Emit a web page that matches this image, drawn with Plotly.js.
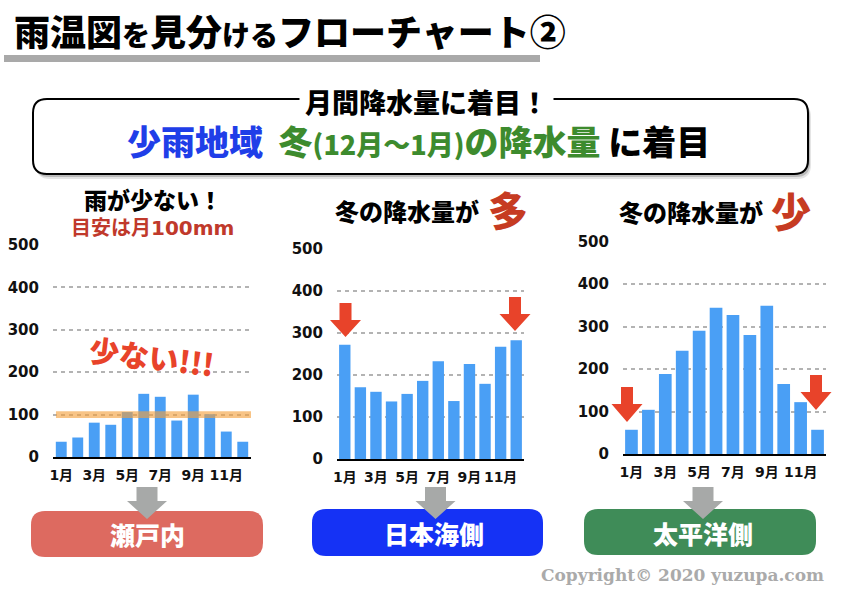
<!DOCTYPE html>
<html>
<head>
<meta charset="utf-8">
<script src="https://cdn.plot.ly/plotly-3.0.1.min.js"></script>
<style>html,body{margin:0;padding:0;background:#fff;}#chart{width:842px;height:595px;}</style>
</head>
<body>
<div id="chart"></div>
<script>
// ---- data ----
const months = ['1月','2月','3月','4月','5月','6月','7月','8月','9月','10月','11月','12月'];
const tickMonths = ['1月','3月','5月','7月','9月','11月'];
const yTicks = [0,100,200,300,400,500];
const setouchi = [36,46,81,76,106,149,142,86,147,101,60,36];
const nihonkai = [272,171,160,137,155,186,233,138,226,179,267,283];
const taiheiyo = [57,104,188,243,290,344,327,280,349,165,122,57];
const regionNames = ['瀬戸内','日本海側','太平洋側'];
const guideline = 100;

// ---- helpers ----
const W = 842, H = 595;
const X = p => p / W;
const Y = p => 1 - p / H;
const CJK = 'Noto Sans CJK JP';
const NUM = 'DejaVu Sans, Noto Sans CJK JP';

function roundRect(x0, y0, x1, y1, r) {
  return 'M' + X(x0 + r) + ',' + Y(y0) +
    ' L' + X(x1 - r) + ',' + Y(y0) +
    ' Q' + X(x1) + ',' + Y(y0) + ' ' + X(x1) + ',' + Y(y0 + r) +
    ' L' + X(x1) + ',' + Y(y1 - r) +
    ' Q' + X(x1) + ',' + Y(y1) + ' ' + X(x1 - r) + ',' + Y(y1) +
    ' L' + X(x0 + r) + ',' + Y(y1) +
    ' Q' + X(x0) + ',' + Y(y1) + ' ' + X(x0) + ',' + Y(y1 - r) +
    ' L' + X(x0) + ',' + Y(y0 + r) +
    ' Q' + X(x0) + ',' + Y(y0) + ' ' + X(x0 + r) + ',' + Y(y0) + ' Z';
}
function blockArrow(cx, top, shaftBottom, tip, sw, hw) {
  const pts = [[cx - sw/2, top], [cx + sw/2, top], [cx + sw/2, shaftBottom], [cx + hw/2, shaftBottom],
               [cx, tip], [cx - hw/2, shaftBottom], [cx - sw/2, shaftBottom]];
  return 'M' + pts.map(p => X(p[0]) + ',' + Y(p[1])).join(' L') + ' Z';
}
function pathShape(path, color, extra) {
  return Object.assign({type:'path', xref:'paper', yref:'paper', path:path, fillcolor:color, line:{width:0}, layer:'above'}, extra||{});
}

const barColor = '#4a9ff5';
function bar(vals, xa, ya, w) {
  return {type:'bar', x:months, y:vals, xaxis:xa, yaxis:ya, width:w,
          marker:{color:barColor, line:{width:0}}, hoverinfo:'skip', showlegend:false};
}
const data = [
  bar(setouchi, 'x', 'y', 0.66),
  bar(nihonkai, 'x2', 'y2', 0.73),
  bar(taiheiyo, 'x3', 'y3', 0.75)
];

function xa(x0, x1, anchor) {
  return {domain:[X(x0), X(x1)], anchor:anchor, type:'category', range:[-0.5, 11.5],
    tickmode:'array', tickvals:tickMonths, ticktext:tickMonths, tickangle:0,
    showline:true, linecolor:'#000', linewidth:2, showgrid:false, zeroline:false,
    ticks:'outside', ticklen:4, tickcolor:'rgba(0,0,0,0)',
    tickfont:{family:NUM, size:14, weight:'bold', color:'#111'}, fixedrange:true};
}
function ya(top, bottom, anchor) {
  return {domain:[Y(bottom), Y(top)], anchor:anchor, range:[0, 500],
    tickmode:'array', tickvals:yTicks,
    showgrid:true, gridcolor:'#b3b3b3', gridwidth:2, griddash:'4px,4px',
    zeroline:false, showline:false,
    ticks:'outside', ticklen:10, tickcolor:'rgba(0,0,0,0)',
    tickfont:{family:NUM, size:15, weight:'bold', color:'#111'}, fixedrange:true};
}

const shapes = [
  // title underline
  {type:'rect', xref:'paper', yref:'paper', x0:X(4), x1:X(540), y0:Y(62), y1:Y(55), fillcolor:'#a9a9a9', line:{width:0}, layer:'below'},
  // big box shadow
  pathShape(roundRect(36, 103, 811, 179, 14), 'rgba(0,0,0,0.10)', {layer:'below'}),
  pathShape(roundRect(35, 102, 810, 177, 14), 'rgba(0,0,0,0.18)', {layer:'below'}),
  // big box
  {type:'path', xref:'paper', yref:'paper', path:roundRect(33, 99, 808, 174, 14), fillcolor:'#ffffff', line:{color:'#000', width:2}, layer:'below'},
  // guideline band (chart 1)
  {type:'rect', xref:'x domain', yref:'y', x0:0.015, x1:1.0, y0:guideline - 8, y1:guideline + 8,
   fillcolor:'rgba(243,160,60,0.62)', line:{width:0}, layer:'above'},
  // red arrows
  pathShape(blockArrow(345.5, 303, 320, 337, 12, 31), '#e8432a'),
  pathShape(blockArrow(515, 297, 314, 331, 12, 31), '#e8432a'),
  pathShape(blockArrow(627, 387, 404, 422, 12, 31), '#e8432a'),
  pathShape(blockArrow(816, 375, 392, 410, 12, 31), '#e8432a'),
  // bottom boxes
  pathShape(roundRect(31, 511, 263, 557, 14), '#dd6a60'),
  pathShape(roundRect(312, 509, 543, 556, 14), '#1532f5'),
  pathShape(roundRect(584, 509, 816, 555, 14), '#3f8c58'),
  // gray arrows
  pathShape(blockArrow(147, 487, 501, 519, 21, 40), '#a7a9a8'),
  pathShape(blockArrow(435.5, 487, 501, 519, 21, 40), '#a7a9a8'),
  pathShape(blockArrow(703, 487, 501, 519, 21, 40), '#a7a9a8')
];

function ann(text, x, y, size, color, extra) {
  return Object.assign({text:text, xref:'paper', yref:'paper', x:X(x), y:Y(y), xanchor:'center', yanchor:'middle',
    showarrow:false, font:{family:CJK, size:size, color:color, weight:900}}, extra||{});
}
const sm = s => '<span style="font-size:28px">' + s + '</span>';
const annotations = [
  ann('雨温図' + sm('を') + '見分' + sm('ける') + 'フローチャート②', 12, 30, 36, '#000', {xanchor:'left'}),
  ann('月間降水量に着目！', 426, 101, 27, '#000', {bgcolor:'#ffffff', borderpad:5}),
  ann('<span style="color:#1f3ee8">少雨地域</span>  <span style="color:#3d8b2e">冬<span style="font-size:27px">(12月〜1月)</span>の降水量</span> に着目',
      418, 140, 34, '#000'),
  ann('雨が少ない！', 153, 199, 23, '#000'),
  ann('目安は月100mm', 152, 228, 20, '#c0392b', {font:{family:NUM, size:20, color:'#c0392b', weight:'bold'}}),
  ann('冬の降水量が', 407, 210, 24, '#000'),
  ann('多', 508, 209, 40, '#c63b22'),
  ann('冬の降水量が', 691, 211, 24, '#000'),
  ann('少', 791, 210, 40, '#c63b22'),
  ann('少ない!!!', 152, 356, 30, '#e8432a', {textangle:7}),
  ann(regionNames[0], 147, 534, 25, '#fff'),
  ann(regionNames[1], 433.5, 533, 25, '#fff'),
  ann(regionNames[2], 703, 533, 25, '#fff'),
  {text:'Copyright© 2020 yuzupa.com', xref:'paper', yref:'paper', x:X(826), y:Y(575), xanchor:'right', yanchor:'middle',
   showarrow:false, font:{family:'DejaVu Serif', size:17, color:'#aaaaaa', weight:'bold'}}
];

const layout = {
  width:W, height:H, margin:{l:0, r:0, t:0, b:0},
  paper_bgcolor:'#ffffff', plot_bgcolor:'rgba(0,0,0,0)',
  showlegend:false,
  xaxis: xa(53, 251, 'y'),   yaxis: ya(245, 457, 'x'),
  xaxis2: xa(337, 524, 'y2'), yaxis2: ya(249, 459, 'x2'),
  xaxis3: xa(623, 826, 'y3'), yaxis3: ya(241.5, 454, 'x3'),
  shapes:shapes, annotations:annotations
};
Plotly.newPlot('chart', data, layout, {displayModeBar:false, staticPlot:true});
</script>
</body>
</html>
